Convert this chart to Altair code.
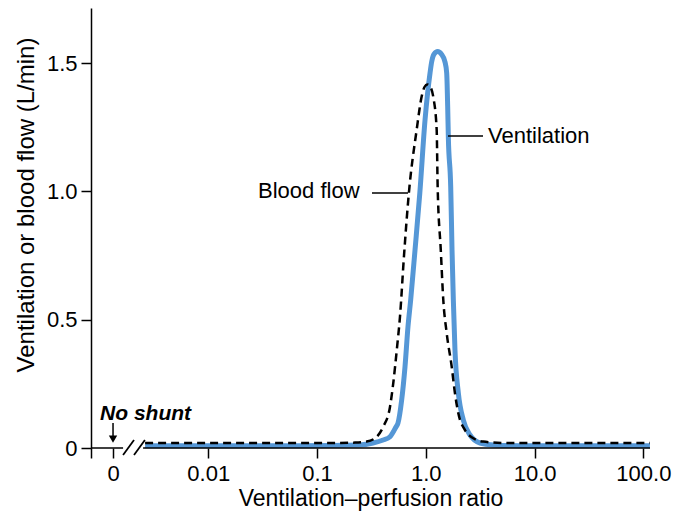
import altair as alt
import pandas as pd

# ---- data ----
# Ventilation curve (blue): V/Q ratio and flow (L/min)
vent_vq = [0.00263, 0.0698, 0.248, 0.327, 0.405, 0.469, 0.532, 0.555, 0.600, 0.644,
           0.686, 0.726, 0.796, 0.881, 0.984, 1.094, 1.132, 1.189, 1.285, 1.393,
           1.500, 1.556, 1.589, 1.611, 1.694, 1.742, 1.791, 1.854, 1.991, 2.213,
           2.547, 3.148, 4.150, 7.345, 114.8]
vent_flow = [0.009, 0.009, 0.012, 0.0195, 0.031, 0.044, 0.082, 0.097, 0.187, 0.317,
             0.473, 0.577, 0.772, 0.994, 1.279, 1.462, 1.505, 1.535, 1.545, 1.535,
             1.505, 1.462, 1.330, 1.213, 1.018, 0.772, 0.577, 0.382, 0.214, 0.109,
             0.051, 0.0195, 0.012, 0.009, 0.009]

# Blood flow curve (dashed black)
blood_vq = [0.00263, 0.132, 0.223, 0.286, 0.354, 0.406, 0.469, 0.502, 0.541, 0.579,
            0.631, 0.699, 0.824, 0.916, 0.973, 1.033, 1.104, 1.172, 1.259, 1.285,
            1.373, 1.448, 1.556, 1.730, 1.854, 1.991, 2.291, 2.735, 3.373, 5.546, 114.8]
blood_flow = [0.0195, 0.0195, 0.021, 0.025, 0.044, 0.083, 0.161, 0.252, 0.382, 0.512,
              0.752, 0.994, 1.240, 1.370, 1.407, 1.417, 1.407, 1.368, 1.240, 1.019,
              0.772, 0.577, 0.448, 0.317, 0.213, 0.135, 0.070, 0.038, 0.025, 0.0195, 0.0195]

# axis ticks
x_tick_values = [0.000837, 0.001334, 0.01, 0.1, 1.0, 10.0, 100.0]
x_tick_labels = ["", "0", "0.01", "0.1", "1.0", "10.0", "100.0"]
y_tick_values = [0, 0.5, 1.0, 1.5]

XMIN, XMAX = 0.000837, 115.0
YMAX = 1.715
FONT = "Liberation Sans"

vent_df = pd.DataFrame({"vq": vent_vq, "flow": vent_flow})
blood_df = pd.DataFrame({"vq": blood_vq, "flow": blood_flow})

# label expression built from the tick lists (threshold chain, largest first)
label_expr = ""
for i in range(len(x_tick_values) - 1, 0, -1):
    mid = (x_tick_values[i - 1] * x_tick_values[i]) ** 0.5
    label_expr += f"datum.value > {mid} ? '{x_tick_labels[i]}' : "
label_expr += "''"

xs = alt.Scale(type="log", domain=[XMIN, XMAX], nice=False)
ys = alt.Scale(domain=[0, YMAX], nice=False, zero=False)

x_axis = alt.Axis(values=x_tick_values, labelExpr=label_expr, domain=False,
                  tickSize=10, tickWidth=1.5, tickColor="black", labelFontSize=22,
                  labelFont=FONT, labelColor="black", labelPadding=5, grid=False,
                  title="Ventilation\u2013perfusion ratio", titleFontSize=23,
                  titleFont=FONT, titleFontWeight="normal", titleColor="black",
                  titleBaseline="alphabetic", titleY=57, labelFlush=False,
                  labelOverlap=False)
y_axis = alt.Axis(values=y_tick_values,
                  labelExpr="datum.value == 0 ? '0' : format(datum.value, '.1f')",
                  domainColor="black", domainWidth=1.5, tickSize=10, tickWidth=1.5,
                  tickColor="black", labelFontSize=22, labelFont=FONT,
                  labelColor="black", labelPadding=4, grid=False,
                  title="Ventilation or blood flow (L/min)", titleFontSize=24,
                  titleFont=FONT, titleFontWeight="normal", titleColor="black",
                  titleBaseline="alphabetic", titleX=-58, titleY=196.5,
                  titleAlign="center", labelFlush=False)


def X(field):
    return alt.X(field, scale=xs, axis=x_axis)


def Y(field):
    return alt.Y(field, scale=ys, axis=y_axis)


vent = alt.Chart(vent_df).mark_line(color="#5597d6", strokeWidth=5,
                                    interpolate="monotone").encode(
    x=X("vq:Q"), y=Y("flow:Q"))

blood = alt.Chart(blood_df).mark_line(color="black", strokeWidth=2.5,
                                      strokeDash=[8, 5],
                                      interpolate="monotone").encode(
    x=X("vq:Q"), y=Y("flow:Q"))

# x-axis line with a break
axis_df = pd.DataFrame({"vq": [XMIN, 0.00252], "x2": [0.00165, XMAX], "flow": [0, 0]})
axis_line = alt.Chart(axis_df).mark_rule(color="black", strokeWidth=1.5).encode(
    x=X("vq:Q"), x2="x2:Q", y=Y("flow:Q"))

slash_df = pd.DataFrame({"vq": [0.00165, 0.00208], "x2": [0.00208, 0.00262],
                         "flow": [-0.027, -0.027], "y2": [0.031, 0.031]})
slashes = alt.Chart(slash_df).mark_rule(color="black", strokeWidth=1.8).encode(
    x=X("vq:Q"), x2="x2:Q", y=Y("flow:Q"), y2="y2:Q")

# annotations
label_df = pd.DataFrame({"vq": [0.0287, 3.73], "flow": [0.9735, 1.188],
                         "t": ["Blood flow", "Ventilation"]})
labels = alt.Chart(label_df).mark_text(align="left", baseline="alphabetic",
                                       fontSize=22, font=FONT, color="black").encode(
    x=X("vq:Q"), y=Y("flow:Q"), text="t:N")

conn_df = pd.DataFrame({"vq": [0.320, 1.600], "x2": [0.686, 3.356], "flow": [0.994, 1.216]})
connectors = alt.Chart(conn_df).mark_rule(color="black", strokeWidth=1.3).encode(
    x=X("vq:Q"), x2="x2:Q", y=Y("flow:Q"))

shunt_df = pd.DataFrame({"vq": [0.001014], "flow": [0.109], "t": ["No shunt"]})
shunt = alt.Chart(shunt_df).mark_text(align="left", baseline="alphabetic", fontSize=21,
                                      font=FONT, fontWeight="bold", fontStyle="italic",
                                      color="black").encode(
    x=X("vq:Q"), y=Y("flow:Q"), text="t:N")

arrow_df = pd.DataFrame({"vq": [0.001334], "flow": [0.0975], "y2": [0.045]})
arrow_line = alt.Chart(arrow_df).mark_rule(color="black", strokeWidth=1.5).encode(
    x=X("vq:Q"), y=Y("flow:Q"), y2="y2:Q")
head_df = pd.DataFrame({"vq": [0.001334], "flow": [0.035]})
arrow_head = alt.Chart(head_df).mark_point(shape="triangle-down", filled=True,
                                           color="black", size=70, opacity=1).encode(
    x=X("vq:Q"), y=Y("flow:Q"))

chart = alt.layer(vent, axis_line, slashes, blood, connectors, labels, shunt,
                  arrow_line, arrow_head).properties(
    width=559, height=440,
    background="white",
    autosize=alt.AutoSizeParams(type="none"),
    padding={"left": 83, "top": 0, "right": 36, "bottom": 64},
).configure_view(stroke=None)

chart.save("out.html", embed_options={"renderer": "svg", "actions": False})
